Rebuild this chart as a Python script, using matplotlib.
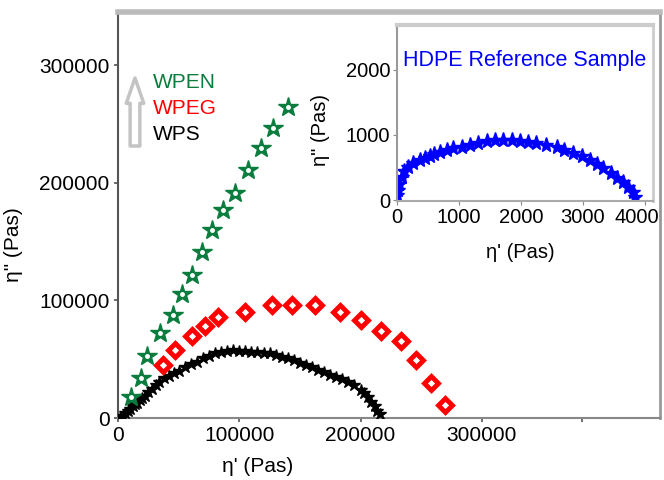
import matplotlib
matplotlib.use("Agg")
import matplotlib.pyplot as plt
from matplotlib.transforms import ScaledTranslation

plt.rcParams['font.family'] = ['Liberation Sans', 'DejaVu Sans']

# WPEN (green stars)
wpen_x = [10700, 19000, 23900, 34600, 45300, 52700, 61000, 69200, 77400, 86600,
          96500, 107200, 117900, 127800, 140100]
wpen_y = [17900, 34000, 52800, 72300, 87700, 105500, 121700, 141300, 160000, 177000,
          191500, 211100, 229800, 246800, 264700]

# WPEG (red open diamonds)
wpeg_x = [37100, 47000, 61000, 71700, 82400, 104700, 127000, 143400, 162400, 183000,
          200300, 216800, 233300, 245700, 258000, 269600]
wpeg_y = [45100, 57900, 69800, 78300, 86000, 90200, 96200, 96200, 96200, 90200,
          83400, 74000, 65500, 49400, 29800, 11100]

# WPS (black, dense)
wps_x = [1500, 4000, 6000, 8000, 10000, 12000, 14000, 16000, 18000, 20000, 22000,
         25000, 28000, 31000, 34000, 38000, 42000, 46000, 50000, 55000, 60000, 65000,
         70000, 75000, 80000, 85000, 90000, 95000, 100000, 105000, 110000, 115000,
         120000, 125000, 130000, 135000, 140000, 145000, 150000, 155000, 160000,
         165000, 170000, 175000, 180000, 185000, 190000, 195000, 200000, 203000,
         206000, 209000, 212000, 214000, 216000]
wps_y = [0, 2000, 4000, 6000, 8000, 10000, 12000, 13000, 15000, 17000, 19000,
         22000, 25000, 28000, 31000, 34000, 36000, 38000, 40000, 43000, 46000, 48000,
         51000, 53000, 55000, 56000, 57000, 58000, 57000, 57000, 56000, 56000,
         55000, 55000, 54000, 52000, 51000, 49000, 47000, 45000, 43000,
         41000, 39000, 37000, 35000, 33000, 31000, 28000, 24000, 21000,
         18000, 14000, 10000, 6000, 3000]

# HDPE reference (inset, blue)
hdpe_x = [0, 20, 40, 75, 110, 180, 260, 370, 450, 530, 600, 695, 800, 910, 1050,
          1180, 1300, 1445, 1580, 1715, 1850, 1985, 2120, 2250, 2400, 2575, 2700,
          2845, 2980, 3110, 3220, 3330, 3450, 3545, 3650, 3730, 3800, 3840]
hdpe_y = [80, 150, 250, 360, 450, 510, 570, 615, 650, 670, 710, 745, 770, 795, 820,
          845, 870, 900, 915, 925, 915, 900, 885, 870, 850, 820, 770,
          720, 670, 615, 560, 485, 410, 335, 270, 205, 130, 50]

green = '#0a7d3e'
W, H = 664, 480

fig = plt.figure(figsize=(6.64, 4.8), dpi=100)

# main axes
ax = fig.add_axes([118 / W, 1 - 418 / H, 542 / W, 406 / H])
ax.plot(wps_x, wps_y, ls='none', marker='*', ms=9, color='black', zorder=3)
ax.plot(wpeg_x, wpeg_y, ls='none', marker='D', ms=7, mfc='white', mec='red', mew=3.5, zorder=4)
ax.plot(wpen_x, wpen_y, ls='none', marker='*', ms=15, color=green, zorder=5)
ax.plot(wpen_x, wpen_y, ls='none', marker='o', ms=2.5, mfc='white', mec='white', zorder=6)
ax.set_xlim(0, 447000)
ax.set_ylim(0, 345500)
ax.set_xticks([0, 100000, 200000, 300000, 383000], ['0', '100000', '200000', '300000', ''])
ax.set_yticks([0, 100000, 200000, 300000], ['0', '100000', '200000', '300000'])
ax.tick_params(labelsize=15, length=3, width=1.2, color='#555555', pad=3)
ax.spines['left'].set_color('#555555')
ax.spines['left'].set_linewidth(1.5)
ax.spines['bottom'].set_color('#888888')
ax.spines['bottom'].set_linewidth(1.5)
ax.spines['top'].set_color('#bbbbbb')
ax.spines['top'].set_linewidth(4)
ax.spines['right'].set_color('#999999')
ax.spines['right'].set_linewidth(2)

fig.text(258 / W, 1 - 466 / H, "η' (Pas)", fontsize=15, ha='center', va='center')
fig.text(14 / W, 1 - 245 / H, 'η" (Pas)', fontsize=15, ha='center', va='center', rotation=90)

# legend texts with arrow
fig.text(153 / W, 1 - 82 / H, 'WPEN', color=green, fontsize=15, va='center')
fig.text(153 / W, 1 - 109 / H, 'WPEG', color='red', fontsize=15, va='center')
fig.text(153 / W, 1 - 135 / H, 'WPS', color='black', fontsize=15, va='center')
ax.annotate('', xy=(135 / W, 1 - 78 / H), xytext=(135 / W, 1 - 146 / H),
            xycoords='figure fraction', textcoords='figure fraction',
            arrowprops=dict(arrowstyle='simple,head_length=1.3,head_width=0.9,tail_width=0.5',
                            fc='white', ec='#c4c4c4', lw=2.5, mutation_scale=14,
                            shrinkA=0, shrinkB=0))

# inset
ins = fig.add_axes([397 / W, 1 - 201 / H, 256 / W, 176 / H])
ins.plot(hdpe_x, hdpe_y, ls='none', marker='*', ms=11, color='blue')
ins.set_xlim(0, 4130)
ins.set_ylim(-15, 2690)
ins.set_xticks([0, 1000, 2000, 3000, 4000])
ins.set_yticks([0, 1000, 2000])
ins.tick_params(labelsize=14.5, length=3, color='#888888', pad=2)
last = ins.get_xticklabels()[-1]
last.set_transform(last.get_transform() + ScaledTranslation(-8 / 100, 0, fig.dpi_scale_trans))
ins.spines['left'].set_color('#999999')
ins.spines['left'].set_linewidth(1.5)
ins.spines['bottom'].set_color('#aaaaaa')
ins.spines['bottom'].set_linewidth(1.5)
ins.spines['top'].set_color('#cccccc')
ins.spines['top'].set_linewidth(3)
ins.spines['right'].set_color('#cccccc')
ins.spines['right'].set_linewidth(2)
ins.text(0.025, 0.8, 'HDPE Reference Sample', transform=ins.transAxes, color='blue',
         fontsize=15.5, va='center')
fig.text(520 / W, 1 - 252 / H, "η' (Pas)", fontsize=14.5, ha='center', va='center')
fig.text(320 / W, 1 - 130 / H, 'η" (Pas)', fontsize=14.5, ha='center', va='center', rotation=90)

fig.savefig('out.png', dpi=100, facecolor='white')
